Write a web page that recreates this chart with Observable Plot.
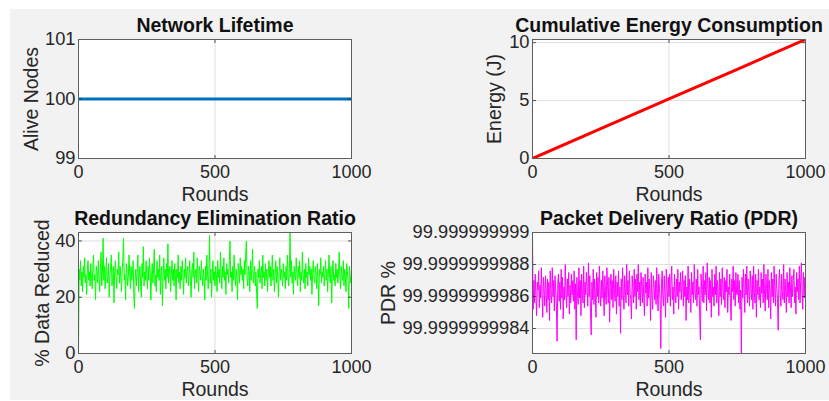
<!DOCTYPE html>
<html><head><meta charset="utf-8">
<script src="https://cdn.jsdelivr.net/npm/d3@7"></script>
<script src="https://cdn.jsdelivr.net/npm/@observablehq/plot@0.6"></script>
<style>
html,body{margin:0;padding:0;background:#fff;}
#fig{position:relative;width:829px;height:401px;overflow:hidden;background:#fff;}
#bg{position:absolute;left:10px;top:9px;width:819px;height:391px;background:#f2f2f2;}
#fig svg{position:absolute;}
</style></head><body><div id="fig"><div id="bg"></div></div>
<script>
// ---------- data ----------
const xTicks = [0, 500, 1000];
const xTickLabels = ["0", "500", "1000"];

const aliveRounds = [0, 1000];
const aliveNodes = [100, 100];
const aliveTicks = [99, 100, 101];

const energyRounds = [0, 250, 500, 750, 1000];
const energyJ = [0, 2.57, 5.14, 7.70, 10.27];
const energyTicks = [0, 5, 10];

const redundancyPct = [
  0,30,26,33,24,29,22,31,27,34,25,28,21,30,33,26,29,24,32,27,
  23,30,35,26,28,19,31,29,25,33,27,22,30,36,24,28,41,26,31,23,
  29,34,25,27,32,20,28,30,35,24,26,31,18,29,33,27,23,30,28,36,
  25,31,27,22,29,34,41,26,28,19,32,30,24,27,35,29,23,31,26,28,
  33,21,16,27,30,24,29,35,22,28,31,25,20,32,27,38,24,29,26,33,
  28,23,31,26,34,29,19,27,32,25,30,37,24,28,22,33,27,30,26,35,
  21,29,31,17,28,34,26,30,23,32,27,39,25,29,31,22,28,33,26,30,
  24,32,28,19,30,27,35,25,29,23,31,26,33,28,21,30,27,34,25,29,
  31,24,28,33,26,20,29,32,27,36,23,28,30,25,34,27,22,31,29,26,
  33,28,24,30,27,19,31,26,35,29,23,28,42,25,30,20,27,33,26,29,
  24,31,28,22,33,27,30,25,36,28,23,31,27,34,26,29,21,32,28,30,
  25,33,40,27,29,22,31,26,35,28,24,30,27,19,32,29,25,34,28,31,
  26,30,23,33,28,36,40,27,24,31,29,22,33,26,30,37,25,28,31,24,
  29,21,16,30,27,33,25,28,31,23,35,27,29,24,32,26,30,22,28,33,
  27,31,24,29,35,26,30,22,28,33,25,31,27,20,29,34,26,30,28,24,
  32,27,29,23,31,26,35,28,24,30,43,27,33,25,29,21,31,28,26,34,
  28,24,31,27,33,22,29,26,36,28,25,30,23,32,27,29,24,34,28,31,
  26,30,21,28,33,27,25,31,29,23,32,26,17,30,28,34,25,29,27,31,
  24,29,33,26,30,22,28,35,27,25,31,18,29,33,26,28,24,32,27,30,
  25,29,36,27,23,31,28,26,33,24,30,27,22,32,29,26,16,31,28,25,
  27
];
const redundancyTicks = [0, 20, 40];

// PDR above 99.999999998 %, in units of 1e-12 %
const pdrBase = 99.999999998;
const pdrOffset = [
  1000,520,700,560,740,600,480,690,640,760,530,670,590,780,610,470,720,650,540,730,
  640,500,710,580,690,450,760,620,560,780,600,700,510,730,640,540,320,680,740,570,
  690,520,770,590,720,460,660,580,800,620,530,710,600,750,490,670,560,740,610,700,
  570,760,520,680,330,720,600,550,780,590,700,480,740,620,560,790,530,690,610,750,
  660,540,810,600,730,500,360,690,580,770,550,710,620,470,750,600,720,560,790,640,
  540,700,590,760,630,480,730,610,550,780,670,560,720,440,660,740,580,700,530,770,
  640,570,730,490,690,600,760,540,660,370,710,580,780,620,520,730,650,560,800,610,
  700,540,760,620,580,460,730,650,560,770,600,710,520,740,630,800,580,690,540,750,
  660,560,720,600,480,740,620,690,540,780,590,710,620,450,750,600,520,730,650,580,
  700,550,780,620,510,740,650,580,275,690,760,600,540,730,630,470,770,650,560,720,
  600,740,540,690,790,580,660,490,740,620,560,710,600,770,520,690,630,750,580,660,
  760,540,700,600,730,450,660,580,790,560,710,630,500,750,610,690,560,800,640,580,
  710,540,770,610,660,480,330,740,630,570,790,560,700,610,750,510,810,650,580,720,
  560,700,470,770,600,660,540,740,610,790,560,700,630,480,750,600,710,550,780,650,
  580,720,530,700,630,770,500,660,610,740,560,450,710,630,790,580,700,540,750,620,
  610,740,560,700,520,640,244,720,590,770,650,500,740,610,790,560,710,630,540,760,
  650,580,730,520,790,630,560,740,470,700,610,770,580,660,530,750,620,710,560,800,
  610,510,740,650,580,770,530,700,630,460,750,600,710,560,790,630,540,740,650,580,
  390,700,770,610,540,740,630,580,800,560,710,630,500,750,600,690,560,780,640,530,
  730,600,700,770,560,660,490,750,630,710,580,790,560,700,810,620,520,750,590,720,
  660
];
const pdrTicks = [99.9999999984, 99.9999999986, 99.9999999988, 99.999999999];
const pdrTickLabels = ["99.9999999984", "99.9999999986", "99.9999999988", "99.999999999"];

// ---------- tables ----------
const aliveData = aliveRounds.map((r, i) => ({round: r, value: aliveNodes[i]}));
const energyData = energyRounds.map((r, i) => ({round: r, value: energyJ[i]}));
const redundancyData = redundancyPct.map((v, i) => ({round: i * 1000 / (redundancyPct.length - 1), value: v}));
const pdrData = pdrOffset.map((v, i) => ({round: i * 1000 / (pdrOffset.length - 1), value: pdrBase + v * 1e-12}));

// ---------- style ----------
const FONT = "'Liberation Sans', Arial, Helvetica, sans-serif";
const TEXT = "#262626";
const GRID = "#dfdfdf";
const tickShape = {draw(ctx, l) { ctx.moveTo(0, 0); ctx.lineTo(0, -l); }};

function panel(o) {
  const {left, top, width, height, frame, yDomain, yTicks, yFormat, marks, title, ylabel, ylabelDx} = o;
  const [fl, ft, fr, fb] = frame;
  const svg = Plot.plot({
    width, height,
    marginLeft: fl - left, marginRight: left + width - fr,
    marginTop: ft - top, marginBottom: top + height - fb,
    style: {background: "transparent", fontFamily: FONT, overflow: "visible"},
    x: {domain: [0, 1000], label: null},
    y: {domain: yDomain, label: null},
    marks: [
      Plot.frame({fill: "white", stroke: null}),
      Plot.gridX(xTicks, {stroke: GRID, strokeOpacity: 1, strokeWidth: 1}),
      Plot.gridY(yTicks, {stroke: GRID, strokeOpacity: 1, strokeWidth: 1}),
      ...marks,
      Plot.vectorX(xTicks, {frameAnchor: "bottom", length: 3, rotate: 0, anchor: "start", shape: tickShape, stroke: TEXT, strokeWidth: 0.8}),
      Plot.vectorX(xTicks, {frameAnchor: "top", length: 3, rotate: 180, anchor: "start", shape: tickShape, stroke: TEXT, strokeWidth: 0.8}),
      Plot.vectorY(yTicks, {frameAnchor: "left", length: 3, rotate: 90, anchor: "start", shape: tickShape, stroke: TEXT, strokeWidth: 0.8}),
      Plot.vectorY(yTicks, {frameAnchor: "right", length: 3, rotate: -90, anchor: "start", shape: tickShape, stroke: TEXT, strokeWidth: 0.8}),
      Plot.frame({stroke: "#5e5e5e", strokeWidth: 1, fill: null}),
      Plot.axisX(xTicks, {tickSize: 0, tickPadding: 7.2, fontSize: 18, color: TEXT, label: null,
        tickFormat: (d) => xTickLabels[xTicks.indexOf(d)]}),
      Plot.axisY(yTicks, {tickSize: 0, tickPadding: 3, fontSize: 18.3, color: TEXT, label: null,
        tickFormat: yFormat}),
      Plot.text([title], {frameAnchor: "top", dy: -7.5, lineAnchor: "bottom", textAnchor: "middle", fontWeight: "bold", fontSize: 19.5, fill: "#111"}),
      Plot.text([ylabel], {frameAnchor: "left", dx: ylabelDx, rotate: -90, lineAnchor: "bottom", textAnchor: "middle", fontSize: 19.5, fill: TEXT}),
      Plot.text(["Rounds"], {frameAnchor: "bottom", dy: 42.5, lineAnchor: "bottom", textAnchor: "middle", fontSize: 19.5, fill: TEXT})
    ]
  });
  svg.style.left = left + "px";
  svg.style.top = top + "px";
  document.getElementById("fig").appendChild(svg);
}

panel({
  left: 0, top: 0, width: 370, height: 207, frame: [78, 39, 351, 158],
  yDomain: [99, 101], yTicks: aliveTicks, yFormat: (d) => String(d),
  marks: [Plot.lineY(aliveData, {x: "round", y: "value", stroke: "#0072BD", strokeWidth: 3, clip: true})],
  title: "Network Lifetime", ylabel: "Alive Nodes", ylabelDx: -40.5
});
panel({
  left: 370, top: 0, width: 459, height: 207, frame: [532, 39, 805, 158],
  yDomain: [0, 10.27], yTicks: energyTicks, yFormat: (d) => String(d),
  marks: [Plot.lineY(energyData, {x: "round", y: "value", stroke: "#FF0000", strokeWidth: 3, clip: true})],
  title: "Cumulative Energy Consumption", ylabel: "Energy (J)", ylabelDx: -31.5
});
panel({
  left: 0, top: 207, width: 370, height: 194, frame: [78, 232, 351, 353],
  yDomain: [0, 43], yTicks: redundancyTicks, yFormat: (d) => String(d),
  marks: [Plot.lineY(redundancyData, {x: "round", y: "value", stroke: "#00FF00", strokeWidth: 1, clip: true})],
  title: "Redundancy Elimination Ratio", ylabel: "% Data Reduced", ylabelDx: -30
});
panel({
  left: 370, top: 207, width: 459, height: 194, frame: [532, 232, 805, 353],
  yDomain: [pdrBase + 244e-12, pdrBase + 1000e-12], yTicks: pdrTicks,
  yFormat: (d) => pdrTickLabels[pdrTicks.indexOf(d)],
  marks: [Plot.lineY(pdrData, {x: "round", y: "value", stroke: "#FF00FF", strokeWidth: 1, clip: true})],
  title: "Packet Delivery Ratio (PDR)", ylabel: "PDR %", ylabelDx: -138
});
</script>
</body></html>
